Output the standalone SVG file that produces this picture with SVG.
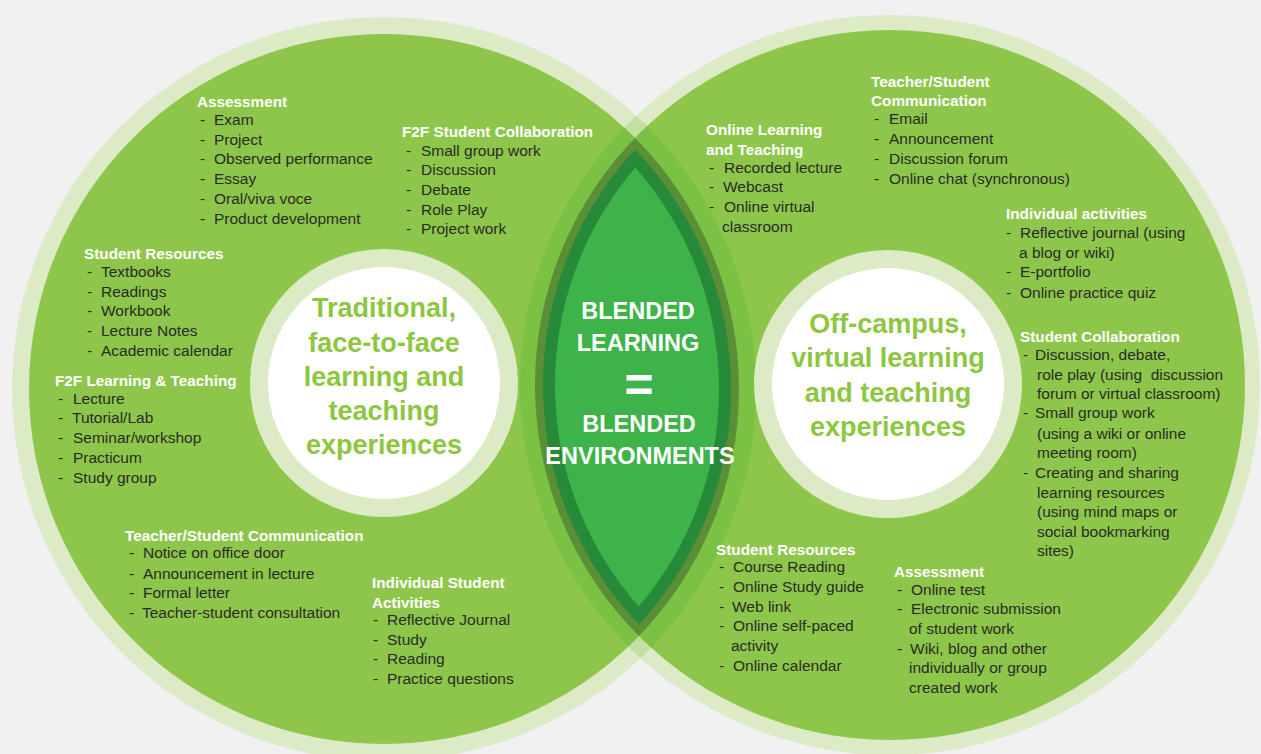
<svg xmlns="http://www.w3.org/2000/svg" width="1261" height="754" viewBox="0 0 1261 754">
<style>
.h{font-family:"Liberation Sans",Arial,sans-serif;font-weight:bold;font-size:15.3px;fill:#ffffff}
.i{font-family:"Liberation Sans",Arial,sans-serif;font-size:15.5px;fill:#2b2a29}
.core{font-family:"Liberation Sans",Arial,sans-serif;font-weight:bold;font-size:27px;fill:#8dc63f;text-anchor:middle}
.mid{font-family:"Liberation Sans",Arial,sans-serif;font-weight:bold;font-size:23.5px;fill:#ffffff;text-anchor:middle}
.eq{font-family:"Liberation Sans",Arial,sans-serif;font-weight:bold;font-size:50px;fill:#ffffff;text-anchor:middle}
.pale{fill:#dcebc6}
.grn{fill:#8dc64b}
</style>
<defs>
<clipPath id="cpLP"><circle cx="384" cy="389" r="372"/></clipPath>
<clipPath id="cpLG"><circle cx="384" cy="389" r="355"/></clipPath>
<clipPath id="cpRG"><circle cx="890" cy="385" r="355"/></clipPath>
<clipPath id="cpLG2"><circle cx="384" cy="389" r="347"/></clipPath>
<clipPath id="cpLG3"><circle cx="384" cy="389" r="335"/></clipPath>
</defs>
<rect x="0" y="0" width="1261" height="754" fill="#f1f1f1"/>

<g id="left-circle">
<circle class="pale" cx="384" cy="389" r="372"/>
</g>
<g id="right-circle">
<circle class="pale" cx="890" cy="385" r="370"/>
</g>
<g id="overlap">
<circle cx="890" cy="385" r="370" fill="#c3e0a4" clip-path="url(#cpLP)"/>
<circle class="grn" cx="384" cy="389" r="355"/>
<circle class="grn" cx="890" cy="385" r="355"/>
<circle cx="890" cy="385" r="370" fill="#7bc143" clip-path="url(#cpLG)"/>
<circle cx="384" cy="389" r="372" fill="#7bc143" clip-path="url(#cpRG)"/>
<circle cx="890" cy="385" r="355" fill="#5a8f37" clip-path="url(#cpLG)"/>
<circle cx="890" cy="385" r="347" fill="#278a39" clip-path="url(#cpLG2)"/>
<circle cx="890" cy="385" r="335" fill="#3db34a" clip-path="url(#cpLG3)"/>
</g>

<g id="blended">
<text class="mid" x="638" y="319">BLENDED</text>
<text class="mid" x="638" y="351">LEARNING</text>
<text class="eq" x="639" y="402">=</text>
<text class="mid" x="639" y="432">BLENDED</text>
<text class="mid" x="640" y="464">ENVIRONMENTS</text>
</g>

<g id="traditional">
<circle class="pale" cx="384" cy="383" r="134"/>
<circle cx="384" cy="383" r="116" fill="#ffffff"/>
<text class="core" x="384" y="317">Traditional,</text>
<text class="core" x="384" y="352">face-to-face</text>
<text class="core" x="384" y="386">learning and</text>
<text class="core" x="384" y="420">teaching</text>
<text class="core" x="384" y="454">experiences</text>
</g>

<g id="offcampus">
<circle class="pale" cx="888" cy="384" r="134"/>
<circle cx="888" cy="384" r="116" fill="#ffffff"/>
<text class="core" x="888" y="333">Off-campus,</text>
<text class="core" x="888" y="367">virtual learning</text>
<text class="core" x="888" y="402">and teaching</text>
<text class="core" x="888" y="436">experiences</text>
</g>

<g id="l-assessment">
<text class="h" x="197" y="107">Assessment</text>
<text class="i" y="125"><tspan x="200">-</tspan><tspan x="214">Exam</tspan></text>
<text class="i" y="145"><tspan x="200">-</tspan><tspan x="214">Project</tspan></text>
<text class="i" y="164"><tspan x="200">-</tspan><tspan x="214">Observed performance</tspan></text>
<text class="i" y="184"><tspan x="200">-</tspan><tspan x="214">Essay</tspan></text>
<text class="i" y="204"><tspan x="200">-</tspan><tspan x="214">Oral/viva voce</tspan></text>
<text class="i" y="224"><tspan x="200">-</tspan><tspan x="214">Product development</tspan></text>
</g>

<g id="l-collaboration">
<text class="h" x="402" y="137">F2F Student Collaboration</text>
<text class="i" y="156"><tspan x="406">-</tspan><tspan x="421">Small group work</tspan></text>
<text class="i" y="175"><tspan x="406">-</tspan><tspan x="421">Discussion</tspan></text>
<text class="i" y="195"><tspan x="406">-</tspan><tspan x="421">Debate</tspan></text>
<text class="i" y="215"><tspan x="406">-</tspan><tspan x="421">Role Play</tspan></text>
<text class="i" y="234"><tspan x="406">-</tspan><tspan x="421">Project work</tspan></text>
</g>

<g id="l-resources">
<text class="h" x="84" y="259">Student Resources</text>
<text class="i" y="277"><tspan x="87">-</tspan><tspan x="101">Textbooks</tspan></text>
<text class="i" y="297"><tspan x="87">-</tspan><tspan x="101">Readings</tspan></text>
<text class="i" y="316"><tspan x="87">-</tspan><tspan x="101">Workbook</tspan></text>
<text class="i" y="336"><tspan x="87">-</tspan><tspan x="101">Lecture Notes</tspan></text>
<text class="i" y="356"><tspan x="87">-</tspan><tspan x="101">Academic calendar</tspan></text>
</g>

<g id="l-learning">
<text class="h" x="55" y="386">F2F Learning &amp; Teaching</text>
<text class="i" y="404"><tspan x="58">-</tspan><tspan x="73">Lecture</tspan></text>
<text class="i" y="423"><tspan x="58">-</tspan><tspan x="72">Tutorial/Lab</tspan></text>
<text class="i" y="443"><tspan x="58">-</tspan><tspan x="73">Seminar/workshop</tspan></text>
<text class="i" y="463"><tspan x="58">-</tspan><tspan x="73">Practicum</tspan></text>
<text class="i" y="483"><tspan x="58">-</tspan><tspan x="73">Study group</tspan></text>
</g>

<g id="l-communication">
<text class="h" x="125" y="541">Teacher/Student Communication</text>
<text class="i" y="558"><tspan x="129">-</tspan><tspan x="143">Notice on office door</tspan></text>
<text class="i" y="579"><tspan x="129">-</tspan><tspan x="143">Announcement in lecture</tspan></text>
<text class="i" y="598"><tspan x="129">-</tspan><tspan x="143">Formal letter</tspan></text>
<text class="i" y="618"><tspan x="129">-</tspan><tspan x="142">Teacher-student consultation</tspan></text>
</g>

<g id="l-individual">
<text class="h" x="372" y="588">Individual Student</text>
<text class="h" x="372" y="608">Activities</text>
<text class="i" y="625"><tspan x="373">-</tspan><tspan x="387">Reflective Journal</tspan></text>
<text class="i" y="645"><tspan x="373">-</tspan><tspan x="387">Study</tspan></text>
<text class="i" y="664"><tspan x="373">-</tspan><tspan x="387">Reading</tspan></text>
<text class="i" y="684"><tspan x="373">-</tspan><tspan x="387">Practice questions</tspan></text>
</g>

<g id="r-learning">
<text class="h" x="706" y="135">Online Learning</text>
<text class="h" x="706" y="155">and Teaching</text>
<text class="i" y="173"><tspan x="709">-</tspan><tspan x="724">Recorded lecture</tspan></text>
<text class="i" y="192"><tspan x="709">-</tspan><tspan x="723">Webcast</tspan></text>
<text class="i" y="212"><tspan x="709">-</tspan><tspan x="724">Online virtual</tspan></text>
<text class="i" x="722" y="232">classroom</text>
</g>

<g id="r-communication">
<text class="h" x="871" y="87">Teacher/Student</text>
<text class="h" x="871" y="106">Communication</text>
<text class="i" y="124"><tspan x="874">-</tspan><tspan x="889">Email</tspan></text>
<text class="i" y="144"><tspan x="874">-</tspan><tspan x="889">Announcement</tspan></text>
<text class="i" y="164"><tspan x="874">-</tspan><tspan x="889">Discussion forum</tspan></text>
<text class="i" y="184"><tspan x="874">-</tspan><tspan x="889">Online chat (synchronous)</tspan></text>
</g>

<g id="r-individual">
<text class="h" x="1006" y="219">Individual activities</text>
<text class="i" y="238"><tspan x="1006">-</tspan><tspan x="1020">Reflective journal (using</tspan></text>
<text class="i" x="1019" y="258">a blog or wiki)</text>
<text class="i" y="277"><tspan x="1006">-</tspan><tspan x="1020">E-portfolio</tspan></text>
<text class="i" y="298"><tspan x="1006">-</tspan><tspan x="1020">Online practice quiz</tspan></text>
</g>

<g id="r-collaboration">
<text class="h" x="1020" y="342">Student Collaboration</text>
<text class="i" y="360"><tspan x="1023">-</tspan><tspan x="1035">Discussion, debate,</tspan></text>
<text class="i" x="1037" y="380" xml:space="preserve">role play (using  discussion</text>
<text class="i" x="1037" y="399">forum or virtual classroom)</text>
<text class="i" y="418"><tspan x="1023">-</tspan><tspan x="1035">Small group work</tspan></text>
<text class="i" x="1037" y="439">(using a wiki or online</text>
<text class="i" x="1037" y="458">meeting room)</text>
<text class="i" y="478"><tspan x="1023">-</tspan><tspan x="1035">Creating and sharing</tspan></text>
<text class="i" x="1037" y="498">learning resources</text>
<text class="i" x="1037" y="517">(using mind maps or</text>
<text class="i" x="1037" y="537">social bookmarking</text>
<text class="i" x="1037" y="556">sites)</text>
</g>

<g id="r-resources">
<text class="h" x="716" y="555">Student Resources</text>
<text class="i" y="572"><tspan x="719">-</tspan><tspan x="733">Course Reading</tspan></text>
<text class="i" y="592"><tspan x="719">-</tspan><tspan x="733">Online Study guide</tspan></text>
<text class="i" y="612"><tspan x="719">-</tspan><tspan x="732">Web link</tspan></text>
<text class="i" y="631"><tspan x="719">-</tspan><tspan x="733">Online self-paced</tspan></text>
<text class="i" x="731" y="651">activity</text>
<text class="i" y="671"><tspan x="719">-</tspan><tspan x="733">Online calendar</tspan></text>
</g>

<g id="r-assessment">
<text class="h" x="894" y="577">Assessment</text>
<text class="i" y="595"><tspan x="897">-</tspan><tspan x="911">Online test</tspan></text>
<text class="i" y="614"><tspan x="897">-</tspan><tspan x="911">Electronic submission</tspan></text>
<text class="i" x="909" y="634">of student work</text>
<text class="i" y="654"><tspan x="897">-</tspan><tspan x="910">Wiki, blog and other</tspan></text>
<text class="i" x="909" y="673">individually or group</text>
<text class="i" x="909" y="693">created work</text>
</g>
</svg>
